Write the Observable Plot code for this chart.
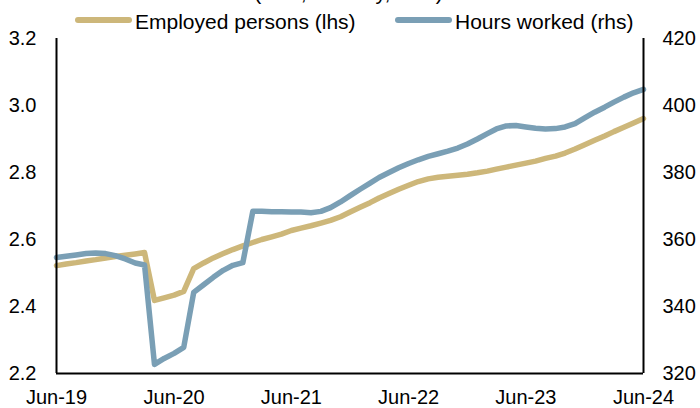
<!DOCTYPE html>
<html>
<head>
<meta charset="utf-8">
<script src="https://cdn.jsdelivr.net/npm/d3@7"></script>
<script src="https://cdn.jsdelivr.net/npm/@observablehq/plot@0.6"></script>
<style>
  html, body { margin: 0; padding: 0; background: #fff; }
  body { width: 700px; height: 408px; position: relative; overflow: hidden; font-family: "Liberation Sans", Arial, sans-serif; }
  #title { position: absolute; left: 0; width: 697px; top: -18px; text-align: center; font-size: 21px; line-height: 21px; color: #000; white-space: nowrap; }
  .lt { position: absolute; top: 11px; font-size: 21px; line-height: 21px; color: #000; white-space: nowrap; }
  .sw { position: absolute; top: 17px; width: 57px; height: 6px; border-radius: 3px; }
  #chart { position: absolute; left: 0; top: 0; }
</style>
</head>
<body>
<div id="chart"></div>
<div id="title">(mns, monthly, mns)</div>
<div id="legend"></div>
<script>
// Monthly, Jun-2019 .. Jun-2024
const startYear = 2019, startMonth = 5; // June (0-based)
const employed = [
  2.522, 2.527, 2.531, 2.536, 2.540, 2.545, 2.549, 2.553, 2.557, 2.561,
  2.418, 2.426, 2.434, 2.445, 2.513, 2.530, 2.545, 2.558, 2.570, 2.581,
  2.591, 2.600, 2.608, 2.616, 2.627, 2.634, 2.641, 2.649, 2.657, 2.668,
  2.682, 2.696, 2.710, 2.724, 2.737, 2.750, 2.762, 2.773, 2.781, 2.786,
  2.789, 2.792, 2.795, 2.799, 2.804, 2.810, 2.816, 2.822, 2.828, 2.834,
  2.842, 2.849, 2.858, 2.870, 2.883, 2.896, 2.909, 2.922, 2.935, 2.948,
  2.961
];
const hours = [
  354.6, 355.0, 355.4, 355.8, 356.0, 355.8, 355.2, 354.2, 353.0, 352.4,
  322.7, 324.5, 326.0, 327.8, 344.2, 346.5, 348.7, 350.8, 352.3, 353.1,
  368.4, 368.4, 368.3, 368.3, 368.2, 368.2, 368.0, 368.4, 369.5, 371.2,
  373.1, 375.0, 376.8, 378.5, 380.0, 381.4, 382.7, 383.8, 384.8, 385.6,
  386.4, 387.3, 388.5, 390.0, 391.6, 393.0, 393.9, 394.0, 393.6, 393.2,
  393.0, 393.1, 393.6, 394.6, 396.3, 398.0, 399.5, 401.0, 402.5, 403.8,
  404.8
];
const seriesNames = ["Employed persons (lhs)", "Hours worked (rhs)"];
const leftTicks = [2.2, 2.4, 2.6, 2.8, 3.0, 3.2];
const rightTicks = [320, 340, 360, 380, 400, 420];
const xTickYears = [2019, 2020, 2021, 2022, 2023, 2024];

const colors = ["#cdb77a", "#7a9fb5"];

// legend (HTML, positioned over the top margin)
const legendPos = [[75, 135], [395, 455]];
const legend = document.getElementById("legend");
seriesNames.forEach((name, i) => {
  const sw = document.createElement("div");
  sw.className = "sw";
  sw.style.left = legendPos[i][0] + "px";
  sw.style.background = colors[i];
  const t = document.createElement("div");
  t.className = "lt";
  t.style.left = legendPos[i][1] + "px";
  t.textContent = name;
  legend.appendChild(sw);
  legend.appendChild(t);
});

const dates = employed.map((_, i) => new Date(Date.UTC(startYear, startMonth + i, 1)));
const empData = employed.map((v, i) => ({ date: dates[i], v }));
// map rhs onto lhs scale: 320..420 -> 2.2..3.2
const toLeft = h => 2.2 + (h - 320) / 100;
const toRight = l => Math.round(320 + (l - 2.2) * 100);
const hrsData = hours.map((v, i) => ({ date: dates[i], v: toLeft(v) }));
const xTicks = xTickYears.map(y => new Date(Date.UTC(y, 5, 1)));
const xDomain = [dates[0], dates[dates.length - 1]];

const chart = Plot.plot({
  width: 700,
  height: 408,
  marginLeft: 56,
  marginRight: 57,
  marginTop: 38,
  marginBottom: 35,
  style: { fontFamily: "'Liberation Sans', Arial, sans-serif", fontSize: "20px", color: "#000", background: "transparent", overflow: "visible" },
  x: { type: "utc", domain: xDomain },
  y: { domain: [2.2, 3.2] },
  marks: [
    Plot.axisX({ ticks: xTicks, tickFormat: d => "Jun-" + String(d.getUTCFullYear()).slice(2), tickSize: 0, tickPadding: 16, fontSize: 20, label: null }),
    Plot.axisY({ anchor: "left", ticks: leftTicks, tickFormat: d3.format(".1f"), tickSize: 0, tickPadding: 20, fontSize: 20, label: null }),
    Plot.axisY({ anchor: "right", ticks: rightTicks.map(toLeft), tickFormat: d => String(toRight(d)), tickSize: 0, tickPadding: 19, fontSize: 20, label: null }),
    Plot.lineY(empData, { x: "date", y: "v", stroke: colors[0], strokeWidth: 5.5, strokeLinejoin: "round", strokeLinecap: "round" }),
    Plot.lineY(hrsData, { x: "date", y: "v", stroke: colors[1], strokeWidth: 5.5, strokeLinejoin: "round", strokeLinecap: "round" }),
    Plot.ruleX(xDomain, { stroke: "#000", strokeWidth: 2 }),
    Plot.ruleY([2.2], { stroke: "#000", strokeWidth: 2 })
  ]
});
document.getElementById("chart").appendChild(chart);
</script>
</body>
</html>
